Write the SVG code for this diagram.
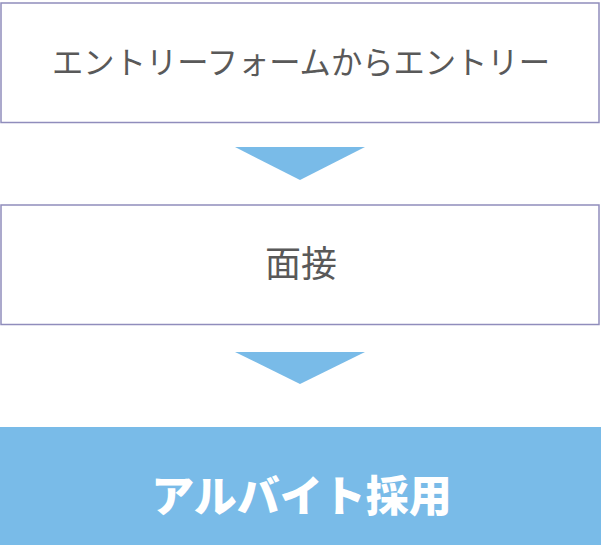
<svg xmlns="http://www.w3.org/2000/svg" width="601" height="545" viewBox="0 0 601 545">
<style>
.box{fill:#ffffff;stroke:#908dbc;stroke-width:1.5}
.lbl{font-family:"Noto Sans CJK JP","Noto Sans",sans-serif;fill:#595959;text-anchor:middle}
.arrow{fill:#79bbe8}
.final{fill:#79bbe8}
.flbl{font-family:"Noto Sans CJK JP","Noto Sans",sans-serif;fill:#ffffff;font-weight:900;text-anchor:middle}
</style>
<rect width="601" height="545" fill="#ffffff"/>
<g id="node-entry">
<rect class="box" x="1" y="3" width="598" height="119.5"/>
<text class="lbl" x="301" y="73.5" font-size="31.3">エントリーフォームからエントリー</text>
</g>
<g id="connectors">
<polygon class="arrow" points="235,147 365,147 300,180"/>
<polygon class="arrow" points="235,352 365,352 300,384"/>
</g>
<g id="node-interview">
<rect class="box" x="1" y="205" width="598" height="119.5"/>
<text class="lbl" x="301" y="277" font-size="36">面接</text>
</g>
<g id="node-hire">
<rect class="final" x="0" y="427" width="601" height="118"/>
<text class="flbl" x="301.5" y="511.5" font-size="43">アルバイト採用</text>
</g>
</svg>
